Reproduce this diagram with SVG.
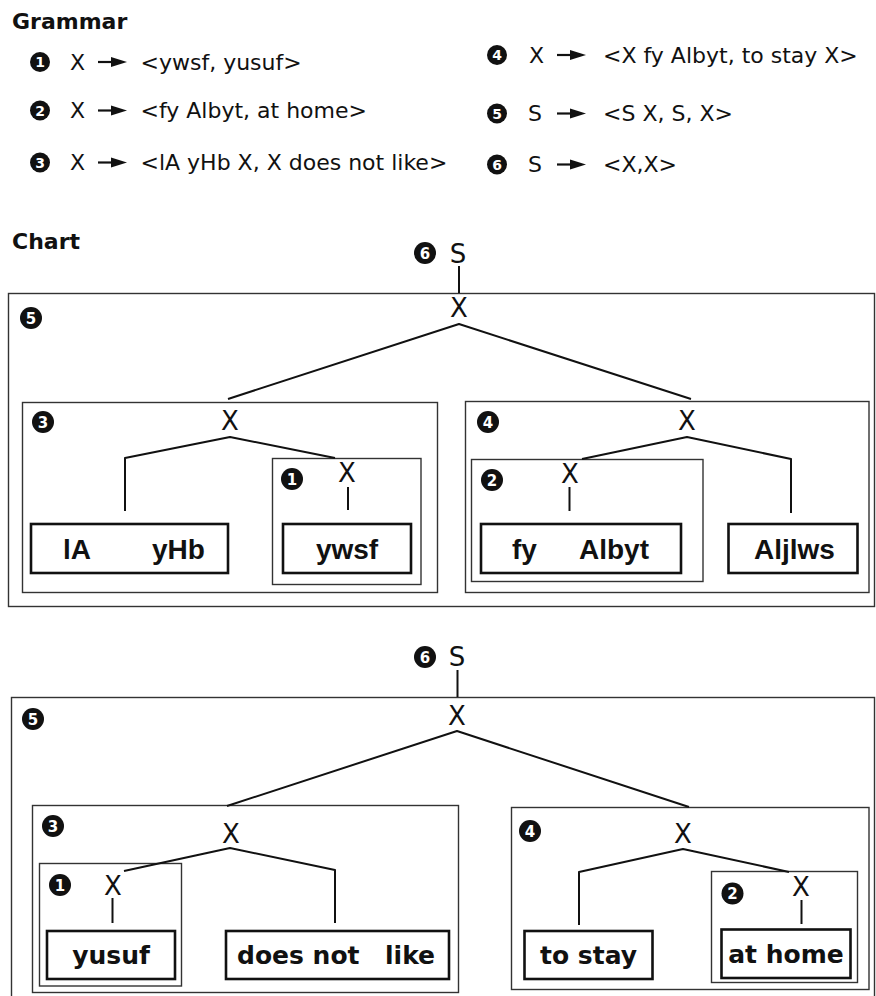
<svg xmlns="http://www.w3.org/2000/svg" xmlns:xlink="http://www.w3.org/1999/xlink" width="876" height="996" viewBox="0 0 876 996">
  <style>
    .title { font-family: "DejaVu Sans", sans-serif; font-weight: bold; font-size: 22px; fill: #111; }
    .rule { font-family: "DejaVu Sans", sans-serif; font-size: 22px; fill: #111; }
    .sym { font-family: "DejaVu Sans", sans-serif; font-size: 26px; fill: #111; text-anchor: middle; }
    .badge circle { fill: #111; }
    .badge text { font-family: "DejaVu Sans", sans-serif; font-weight: bold; font-size: 14px; fill: #fff; text-anchor: middle; }
    .chart .badge text { font-size: 15px; }
    .frame { fill: none; stroke: #333; stroke-width: 1.4; }
    .word { fill: #fff; stroke: #111; stroke-width: 2.6; }
    .src { font-family: "Liberation Sans", Arial, sans-serif; font-weight: bold; font-size: 28px; fill: #111; }
    .tgt { font-family: "DejaVu Sans", sans-serif; font-weight: bold; font-size: 25px; fill: #111; }
    .edge { fill: none; stroke: #111; stroke-width: 2; stroke-linejoin: round; }
  </style>
  <defs>
    <g id="arrow">
      <line x1="0" y1="0" x2="16" y2="0" stroke="#111" stroke-width="2.2"/>
      <polygon points="13,-5 29,0 13,5" fill="#111"/>
    </g>
  </defs>

  <rect width="876" height="996" fill="#fff"/>

  <!-- grammar rules -->
  <g id="grammar">
    <text class="title" x="12" y="29">Grammar</text>

    <g id="rule1">
      <g class="badge"><circle cx="40" cy="62" r="10"/><text x="40" y="67">1</text></g>
      <text class="rule" x="70" y="69.5">X</text>
      <use xlink:href="#arrow" x="98" y="62"/>
      <text class="rule" x="140.5" y="69.5">&lt;ywsf, yusuf&gt;</text>
    </g>
    <g id="rule2">
      <g class="badge"><circle cx="40" cy="110.5" r="10"/><text x="40" y="115.5">2</text></g>
      <text class="rule" x="70" y="118">X</text>
      <use xlink:href="#arrow" x="98" y="110.5"/>
      <text class="rule" x="140.5" y="118">&lt;fy Albyt, at home&gt;</text>
    </g>
    <g id="rule3">
      <g class="badge"><circle cx="40" cy="162.5" r="10"/><text x="40" y="167.5">3</text></g>
      <text class="rule" x="70" y="170">X</text>
      <use xlink:href="#arrow" x="98" y="162.5"/>
      <text class="rule" x="140.5" y="170">&lt;lA yHb X, X does not like&gt;</text>
    </g>
    <g id="rule4">
      <g class="badge"><circle cx="497" cy="55" r="10"/><text x="497" y="60">4</text></g>
      <text class="rule" x="529" y="62.5">X</text>
      <use xlink:href="#arrow" x="557" y="55"/>
      <text class="rule" x="603" y="62.5">&lt;X fy Albyt, to stay X&gt;</text>
    </g>
    <g id="rule5">
      <g class="badge"><circle cx="497" cy="113.5" r="10"/><text x="497" y="118.5">5</text></g>
      <text class="rule" x="528" y="121">S</text>
      <use xlink:href="#arrow" x="557" y="113.5"/>
      <text class="rule" x="603" y="121">&lt;S X, S, X&gt;</text>
    </g>
    <g id="rule6">
      <g class="badge"><circle cx="497" cy="164.5" r="10"/><text x="497" y="169.5">6</text></g>
      <text class="rule" x="528" y="172">S</text>
      <use xlink:href="#arrow" x="557" y="164.5"/>
      <text class="rule" x="603" y="172">&lt;X,X&gt;</text>
    </g>
  </g>

  <text class="title" x="12" y="249">Chart</text>

  <!-- upper chart: source side -->
  <g id="src-tree" class="chart">
    <g id="src-r5">
      <rect class="frame" x="8.5" y="293.5" width="866" height="313"/>
      <g class="badge"><circle cx="31" cy="318" r="11"/><text x="31" y="323.5">5</text></g>
      <text class="sym" x="459" y="317">X</text>
    </g>
    <g id="src-r6">
      <g class="badge"><circle cx="425" cy="253" r="11"/><text x="425" y="258.5">6</text></g>
      <text class="sym" x="458" y="263">S</text>
    </g>
    <g id="src-r3">
      <rect class="frame" x="22.5" y="402.5" width="415" height="190"/>
      <g class="badge"><circle cx="43" cy="422" r="11"/><text x="43" y="427.5">3</text></g>
      <text class="sym" x="230" y="430">X</text>
    </g>
    <g id="src-r1">
      <rect class="frame" x="272.5" y="458.5" width="148.5" height="126"/>
      <g class="badge"><circle cx="292" cy="479" r="11"/><text x="292" y="484.5">1</text></g>
      <text class="sym" x="347" y="482">X</text>
    </g>
    <g id="src-r4">
      <rect class="frame" x="465.5" y="401.5" width="403.5" height="191"/>
      <g class="badge"><circle cx="488" cy="422" r="11"/><text x="488" y="427.5">4</text></g>
      <text class="sym" x="687" y="430">X</text>
    </g>
    <g id="src-r2">
      <rect class="frame" x="471.5" y="459.5" width="231.5" height="122"/>
      <g class="badge"><circle cx="492" cy="480" r="11"/><text x="492" y="485.5">2</text></g>
      <text class="sym" x="570" y="483">X</text>
    </g>
    <g id="src-w-la-yhb">
      <rect class="word" x="31" y="524" width="197" height="49"/>
      <text class="src" x="63" y="559">lA</text>
      <text class="src" x="152" y="559">yHb</text>
    </g>
    <g id="src-w-ywsf">
      <rect class="word" x="283" y="524" width="128" height="49"/>
      <text class="src" x="347" y="559" text-anchor="middle">ywsf</text>
    </g>
    <g id="src-w-fy-albyt">
      <rect class="word" x="481" y="524" width="200" height="49"/>
      <text class="src" x="512" y="559">fy</text>
      <text class="src" x="579" y="559">Albyt</text>
    </g>
    <g id="src-w-aljlws">
      <rect class="word" x="728.5" y="524" width="129" height="49"/>
      <text class="src" x="794.5" y="559" text-anchor="middle">Aljlws</text>
    </g>
  </g>

  <!-- lower chart: target side -->
  <g id="tgt-tree" class="chart">
    <g id="tgt-r5">
      <rect class="frame" x="11.5" y="697.5" width="863" height="310"/>
      <g class="badge"><circle cx="33" cy="719" r="11"/><text x="33" y="724.5">5</text></g>
      <text class="sym" x="457" y="725">X</text>
    </g>
    <g id="tgt-r6">
      <g class="badge"><circle cx="425" cy="657" r="11"/><text x="425" y="662.5">6</text></g>
      <text class="sym" x="457" y="666">S</text>
    </g>
    <g id="tgt-r3">
      <rect class="frame" x="32.5" y="805.5" width="426" height="187"/>
      <g class="badge"><circle cx="53" cy="826" r="11"/><text x="53" y="831.5">3</text></g>
      <text class="sym" x="231" y="843">X</text>
    </g>
    <g id="tgt-r1">
      <rect class="frame" x="39.5" y="863.5" width="142" height="122.5"/>
      <g class="badge"><circle cx="60" cy="885" r="11"/><text x="60" y="890.5">1</text></g>
      <text class="sym" x="113" y="895">X</text>
    </g>
    <g id="tgt-r4">
      <rect class="frame" x="511.5" y="807.5" width="357.5" height="182"/>
      <g class="badge"><circle cx="530" cy="831" r="11"/><text x="530" y="836.5">4</text></g>
      <text class="sym" x="683" y="843">X</text>
    </g>
    <g id="tgt-r2">
      <rect class="frame" x="711.5" y="871.5" width="146" height="111"/>
      <g class="badge"><circle cx="732.5" cy="893.5" r="11"/><text x="732.5" y="899">2</text></g>
      <text class="sym" x="801" y="896">X</text>
    </g>
    <g id="tgt-w-yusuf">
      <rect class="word" x="47" y="931" width="128" height="48"/>
      <text class="tgt" x="111" y="964" text-anchor="middle">yusuf</text>
    </g>
    <g id="tgt-w-does-not-like">
      <rect class="word" x="226" y="931" width="223" height="48"/>
      <text class="tgt" y="964"><tspan x="237">does not</tspan><tspan x="385">like</tspan></text>
    </g>
    <g id="tgt-w-to-stay">
      <rect class="word" x="524.5" y="931" width="128" height="48"/>
      <text class="tgt" x="588.5" y="964" text-anchor="middle">to stay</text>
    </g>
    <g id="tgt-w-at-home">
      <rect class="word" x="721.5" y="929.5" width="129" height="48.5"/>
      <text class="tgt" x="786" y="963" text-anchor="middle">at home</text>
    </g>
  </g>

  <!-- tree edges -->
  <g id="connectors" class="edge">
    <line x1="459" y1="266" x2="459" y2="293"/>
    <polyline points="228,399 459,324 691,399"/>
    <polyline points="125,511 125,458 230,437 335,458"/>
    <line x1="348" y1="487" x2="348" y2="510"/>
    <polyline points="582,459 687,437 791,459 791,513"/>
    <line x1="569.5" y1="487" x2="569.5" y2="511"/>

    <line x1="457.5" y1="670" x2="457.5" y2="697"/>
    <polyline points="227,806 457,731 689,807"/>
    <polyline points="124,871 230,848 335,870 335,923"/>
    <line x1="112.5" y1="898" x2="112.5" y2="923"/>
    <polyline points="579,925 579,872 683,849 789,872"/>
    <line x1="801.5" y1="900" x2="801.5" y2="924"/>
  </g>
</svg>
